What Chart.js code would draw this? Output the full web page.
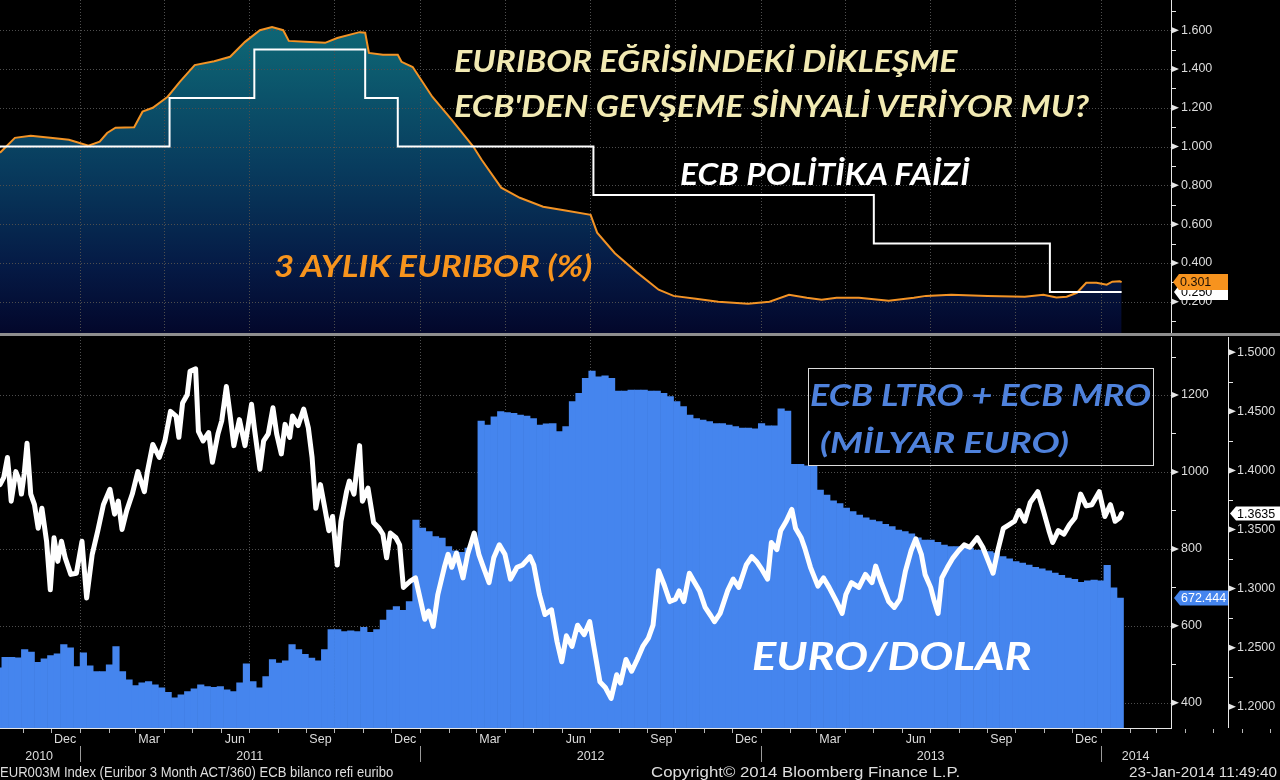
<!DOCTYPE html>
<html><head><meta charset="utf-8"><title>Euribor / ECB</title>
<script src="https://cdn.jsdelivr.net/npm/chart.js@4.4.1/dist/chart.umd.min.js"></script>
<style>
html,body{margin:0;padding:0;background:#000;width:1280px;height:780px;overflow:hidden;}
#wrap{position:relative;width:1280px;height:780px;background:#000;}
canvas{position:absolute;left:0;}
#cTop{top:0;}
#cBot{top:336px;}
#sep{position:absolute;left:0;top:333px;width:1280px;height:3px;background:#8e8e8e;}
#box{position:absolute;left:808px;top:368px;width:346px;height:98px;border:1px solid #dcdcdc;box-sizing:border-box;}
.t{position:absolute;left:0;top:0;white-space:nowrap;transform-origin:0 0;font-family:Lato,'Open Sans',sans-serif;font-weight:bold;font-style:italic;line-height:1;}
.f{position:absolute;left:0;top:0;white-space:nowrap;transform-origin:0 0;font-family:'Liberation Sans',Arial,sans-serif;color:#dedede;line-height:1;}
</style></head>
<body><div id="wrap">
<canvas id="cTop" width="1280" height="333"></canvas>
<div id="sep"></div>
<canvas id="cBot" width="1280" height="444"></canvas>
<div id="box"></div>
<div class="t" id="a1" style="color:#f2eab3">EURIBOR EĞRİSİNDEKİ DİKLEŞME</div>
<div class="t" id="a2" style="color:#f2eab3">ECB'DEN GEVŞEME SİNYALİ VERİYOR MU?</div>
<div class="t" id="a3" style="color:#ffffff">ECB POLİTİKA FAİZİ</div>
<div class="t" id="a4" style="color:#f7941d">3 AYLIK EURIBOR (%)</div>
<div class="t" id="a5" style="color:#4f82dc">ECB LTRO + ECB MRO</div>
<div class="t" id="a6" style="color:#4f82dc">(MİLYAR EURO)</div>
<div class="t" id="a7" style="color:#ffffff">EURO/DOLAR</div>
<div class="f" id="f1">EUR003M Index (Euribor 3 Month ACT/360) ECB bilanco refi euribo</div>
<div class="f" id="f2">Copyright© 2014 Bloomberg Finance L.P.</div>
<div class="f" id="f3">23-Jan-2014 11:49:40</div>
</div>
<script>
// ---------------- DATA ----------------
const euriborDates = ['2010-10-07','2010-10-23','2010-11-09','2010-11-30','2010-12-20',
 '2011-01-10','2011-01-22','2011-01-30','2011-02-08','2011-02-28','2011-03-09','2011-03-20','2011-04-05','2011-04-18','2011-05-04','2011-05-25','2011-06-11','2011-06-27','2011-07-13','2011-07-26','2011-08-07','2011-08-13','2011-08-31','2011-09-21','2011-10-04','2011-10-28','2011-11-03','2011-11-07','2011-11-22','2011-12-08','2011-12-12','2011-12-24',
 '2012-01-14','2012-02-04','2012-02-27','2012-03-07','2012-03-28','2012-04-17','2012-05-12','2012-06-05','2012-07-02','2012-07-09','2012-07-28','2012-08-21','2012-09-13','2012-09-29','2012-10-23','2012-11-16','2012-12-18',
 '2013-01-10','2013-01-31','2013-02-19','2013-03-07','2013-03-23','2013-04-16','2013-05-18','2013-06-14','2013-06-27','2013-07-24','2013-09-01','2013-10-11','2013-10-31','2013-11-14','2013-11-25','2013-12-06','2013-12-16','2013-12-27',
 '2014-01-07','2014-01-13','2014-01-21','2014-01-23'];
const euriborValues = [0.968,1.045,1.056,1.045,1.035,
 1.004,1.025,1.070,1.097,1.100,1.180,1.200,1.257,1.334,1.420,1.440,1.463,1.540,1.600,1.617,1.600,1.545,1.540,1.535,1.560,1.590,1.587,1.483,1.473,1.473,1.437,1.410,
 1.257,1.138,1.000,0.932,0.788,0.736,0.690,0.670,0.648,0.556,0.450,0.350,0.262,0.230,0.215,0.200,0.190,
 0.200,0.236,0.220,0.210,0.220,0.220,0.205,0.220,0.230,0.236,0.230,0.226,0.236,0.222,0.226,0.246,0.298,0.298,
 0.288,0.303,0.305,0.301];

const refiDates  = ['2010-10-01','2011-04-07','2011-07-07','2011-11-03','2011-12-08','2012-07-05','2013-05-02','2013-11-07','2014-01-23'];
const refiValues = [1.00,1.25,1.50,1.25,1.00,0.75,0.50,0.25,0.25];

// weekly ECB LTRO + MRO balance (bn EUR), first week starting:
const balanceFirstWeek = '2010-10-02';
const balanceValues = [491,518,518,517,538,532,505,514,523,527,551,543,494,530,496,481,481,499,546,481,
 460,445,452,455,447,439,427,413,421,429,436,447,442,440,442,434,429,452,501,455,
 439,468,512,503,509,551,538,526,516,509,538,590,590,585,587,585,596,583,590,615,
 641,650,640,663,875,854,845,832,828,806,795,791,802,815,1132,1122,1143,1157,1154,1152,
 1148,1145,1139,1122,1125,1126,1105,1118,1183,1204,1243,1262,1247,1250,1243,1210,1210,1213,1213,1213,
 1210,1210,1204,1196,1183,1170,1148,1139,1135,1131,1126,1126,1122,1118,1114,1114,1112,1126,1120,1120,
 1164,1158,1020,1020,1016,1016,953,940,925,918,906,897,888,881,875,871,864,858,849,845,
 839,829,823,823,817,810,806,806,802,802,797,797,793,789,780,774,767,763,758,752,
 748,743,737,731,724,721,713,717,719,717,757,699,672.444];

const fxDates = [
 '2010-10-07','2010-10-11','2010-10-15','2010-10-17','2010-10-19','2010-10-24','2010-10-28','2010-10-30','2010-11-02','2010-11-05','2010-11-07','2010-11-09','2010-11-13','2010-11-17','2010-11-21','2010-11-26','2010-11-30','2010-12-04','2010-12-08','2010-12-12','2010-12-16','2010-12-22','2010-12-28',
 '2011-01-03','2011-01-08','2011-01-14','2011-01-20','2011-01-26','2011-02-02','2011-02-07','2011-02-11','2011-02-15','2011-02-20','2011-02-26','2011-03-04','2011-03-11','2011-03-14','2011-03-20','2011-03-27','2011-04-02','2011-04-08','2011-04-14','2011-04-17','2011-04-21','2011-04-26','2011-04-29','2011-05-05','2011-05-08','2011-05-13','2011-05-19','2011-05-23','2011-05-29','2011-06-02','2011-06-07','2011-06-11','2011-06-15','2011-06-21','2011-06-27','2011-07-04','2011-07-07','2011-07-13','2011-07-17','2011-07-22','2011-07-27','2011-07-31','2011-08-05','2011-08-09','2011-08-14','2011-08-17','2011-08-23','2011-08-29','2011-09-03','2011-09-07','2011-09-11','2011-09-16','2011-09-20','2011-09-25','2011-09-29','2011-10-04','2011-10-08','2011-10-14','2011-10-17','2011-10-22','2011-10-24','2011-10-28','2011-10-31','2011-11-06','2011-11-12','2011-11-18','2011-11-22','2011-11-26','2011-11-30','2011-12-06','2011-12-10','2011-12-14','2011-12-21','2011-12-27','2011-12-31',
 '2012-01-06','2012-01-10','2012-01-15','2012-01-20','2012-01-27','2012-01-31','2012-02-04','2012-02-09','2012-02-16','2012-02-21','2012-02-28','2012-03-04','2012-03-08','2012-03-15','2012-03-20','2012-03-26','2012-04-01','2012-04-07','2012-04-14','2012-04-20','2012-04-28','2012-05-02','2012-05-08','2012-05-14','2012-05-21','2012-05-27','2012-06-01','2012-06-06','2012-06-12','2012-06-18','2012-06-25','2012-07-01','2012-07-05','2012-07-12','2012-07-18','2012-07-24','2012-07-30','2012-08-03','2012-08-09','2012-08-15','2012-08-21','2012-08-27','2012-09-02','2012-09-07','2012-09-13','2012-09-19','2012-09-25','2012-10-01','2012-10-05','2012-10-10','2012-10-16','2012-10-21','2012-10-27','2012-11-02','2012-11-08','2012-11-12','2012-11-18','2012-11-26','2012-12-02','2012-12-08','2012-12-16','2012-12-22','2012-12-27',
 '2013-01-02','2013-01-08','2013-01-12','2013-01-18','2013-01-22','2013-01-28','2013-02-03','2013-02-07','2013-02-13','2013-02-17','2013-02-23','2013-03-03','2013-03-09','2013-03-15','2013-03-23','2013-03-29','2013-04-02','2013-04-08','2013-04-16','2013-04-23','2013-04-30','2013-05-04','2013-05-10','2013-05-18','2013-05-24','2013-05-30','2013-06-05','2013-06-11','2013-06-16','2013-06-22','2013-06-26','2013-07-02','2013-07-06','2013-07-10','2013-07-14','2013-07-20','2013-07-26','2013-08-01','2013-08-07','2013-08-13','2013-08-21','2013-08-27','2013-09-02','2013-09-07','2013-09-12','2013-09-18','2013-09-24','2013-09-30','2013-10-05','2013-10-11','2013-10-17','2013-10-25','2013-10-31','2013-11-06','2013-11-10','2013-11-16','2013-11-22','2013-11-28','2013-12-04','2013-12-10','2013-12-16','2013-12-22','2013-12-30',
 '2014-01-05','2014-01-11','2014-01-16','2014-01-21','2014-01-23'];
const fxValues = [
 1.388,1.394,1.411,1.394,1.374,1.399,1.391,1.380,1.397,1.423,1.402,1.380,1.371,1.351,1.368,1.340,1.299,1.343,1.323,1.340,1.326,1.312,1.313,
 1.340,1.292,1.329,1.349,1.371,1.384,1.363,1.374,1.350,1.366,1.380,1.399,1.382,1.398,1.422,1.411,1.425,1.450,1.446,1.428,1.457,1.464,1.484,1.486,1.433,1.425,1.432,1.407,1.431,1.442,1.471,1.447,1.421,1.443,1.421,1.456,1.436,1.401,1.425,1.431,1.453,1.431,1.414,1.439,1.428,1.446,1.438,1.452,1.436,1.411,1.368,1.388,1.371,1.349,1.361,1.320,1.357,1.382,1.391,1.380,1.394,1.421,1.374,1.385,1.356,1.351,1.346,1.326,1.347,1.343,1.337,1.301,1.306,1.309,1.295,
 1.274,1.281,1.268,1.295,1.318,1.329,1.318,1.330,1.309,1.329,1.347,1.329,1.320,1.305,1.326,1.337,1.329,1.308,1.318,1.320,1.327,1.320,1.295,1.278,1.282,1.255,1.238,1.260,1.251,1.269,1.261,1.272,1.253,1.221,1.216,1.207,1.227,1.220,1.240,1.230,1.240,1.251,1.258,1.269,1.315,1.303,1.289,1.291,1.298,1.289,1.313,1.306,1.298,1.284,1.277,1.272,1.279,1.298,1.308,1.301,1.320,1.327,1.323,
 1.316,1.308,1.339,1.333,1.349,1.357,1.367,1.351,1.343,1.334,1.318,1.302,1.309,1.301,1.289,1.279,1.295,1.305,1.301,1.312,1.305,1.319,1.305,1.289,1.284,1.291,1.315,1.332,1.342,1.329,1.312,1.301,1.289,1.279,1.309,1.318,1.326,1.332,1.337,1.335,1.343,1.335,1.323,1.313,1.332,1.351,1.354,1.357,1.366,1.357,1.373,1.382,1.366,1.349,1.339,1.349,1.346,1.354,1.360,1.380,1.370,1.371,1.382,
 1.361,1.371,1.357,1.360,1.3635];

// ticks / labels
const topMajorTicks = [0.2,0.4,0.6,0.8,1.0,1.2,1.4,1.6];
const topMinorTicks = [0.1,0.3,0.5,0.7,0.9,1.1,1.3,1.5,1.7];
const balMajorTicks = [400,600,800,1000,1200];
const balMinorTicks = [500,700,900,1100,1300];
const fxMajorTicks = [1.20,1.25,1.30,1.35,1.40,1.45,1.50];
const fxMinorTicks = [1.225,1.275,1.325,1.375,1.425,1.475];
const monthLabels = ['Dec','Mar','Jun','Sep','Dec','Mar','Jun','Sep','Dec','Mar','Jun','Sep','Dec'];
const monthLabelDates = ['2010-12-16','2011-03-16','2011-06-16','2011-09-16','2011-12-16','2012-03-16','2012-06-16','2012-09-16','2012-12-16','2013-03-16','2013-06-16','2013-09-16','2013-12-16'];
const yearLabels = ['2010','2011','2012','2013','2014'];
const yearLabelDates = ['2010-11-18','2011-07-02','2012-07-02','2013-07-02','2014-02-07'];
const axisStart = '2010-10-07', axisEnd = '2014-03-17';

// ---------------- HELPERS ----------------
const DAY0 = Date.UTC(2011,0,1);
function dayNum(s){ const p = s.split('-').map(Number); return (Date.UTC(p[0],p[1]-1,p[2]) - DAY0)/86400000; }
const xMin = dayNum(axisStart), xMax = dayNum(axisEnd);
const monthStarts = [], quarterStarts = [], yearStarts = [];
for (let y = 2010; y <= 2014; y++) for (let m = 0; m < 12; m++) {
  const d = (Date.UTC(y,m,1) - DAY0)/86400000;
  if (d < xMin || d > xMin + 1400) continue;
  monthStarts.push(d);
  if (m % 3 === 0 && d <= xMax) quarterStarts.push(d);
  if (m === 0) yearStarts.push(d);
}
const FONT = {family:"'Liberation Sans', Arial, sans-serif", size:12.5};
const LABEL = '#dcdcdc', AXIS = '#e6e6e6', GRID = '#4e4e4e';
function noPad(s){ s.paddingTop = 0; s.paddingBottom = 0; s.paddingLeft = 0; s.paddingRight = 0; }
function ln(ctx,x1,y1,x2,y2){ ctx.beginPath(); ctx.moveTo(x1,y1); ctx.lineTo(x2,y2); ctx.stroke(); }
function drawGrid(chart, yId, yVals){
  const {ctx, chartArea:a, scales} = chart;
  ctx.save(); ctx.strokeStyle = GRID; ctx.lineWidth = 1; ctx.setLineDash([1,2]);
  yVals.forEach(v => { const y = Math.round(scales[yId].getPixelForValue(v)) + 0.5; ln(ctx, a.left, y, a.right, y); });
  quarterStarts.forEach(d => { const x = Math.round(scales.x.getPixelForValue(d)) + 0.5; ln(ctx, x, a.top, x, a.bottom); });
  ctx.restore();
}
function drawAxis(chart, id, major, minor){
  const {ctx, chartArea:a, scales} = chart; const s = scales[id]; const x0 = Math.round(s.left);
  ctx.save(); ctx.strokeStyle = AXIS; ctx.fillStyle = AXIS; ctx.lineWidth = 1;
  ln(ctx, x0 + 0.5, a.top, x0 + 0.5, a.bottom);
  major.forEach(v => { const y = s.getPixelForValue(v); ctx.beginPath(); ctx.moveTo(x0+1, y-3); ctx.lineTo(x0+8, y); ctx.lineTo(x0+1, y+3); ctx.closePath(); ctx.fill(); });
  minor.forEach(v => { const y = Math.round(s.getPixelForValue(v)) + 0.5; ln(ctx, x0, y, x0+5, y); });
  ctx.restore();
}
function badge(ctx, xTip, yc, w, h, fill, text, color){
  ctx.save(); ctx.fillStyle = fill;
  ctx.beginPath(); ctx.moveTo(xTip, yc); ctx.lineTo(xTip+6, yc-h/2); ctx.lineTo(xTip+w, yc-h/2); ctx.lineTo(xTip+w, yc+h/2); ctx.lineTo(xTip+6, yc+h/2); ctx.closePath(); ctx.fill();
  ctx.fillStyle = color; ctx.font = "12.5px 'Liberation Sans', Arial, sans-serif"; ctx.textBaseline = 'middle'; ctx.textAlign = 'left';
  ctx.fillText(text, xTip+7, yc+0.5);
  ctx.restore();
}
const pts = (dates, vals) => dates.map((d,i) => ({x: dayNum(d), y: vals[i]}));
const barPts = balanceValues.map((v,i) => ({x: dayNum(balanceFirstWeek) + 7*i + 3.5, y: v}));

// ---------------- TOP CHART ----------------
new Chart(document.getElementById('cTop'), {
  data: { datasets: [
    { type:'line', label:'ECB refi', data: pts(refiDates, refiValues), stepped: true, borderColor:'#ffffff', borderWidth:2, pointRadius:0, fill:false },
    { type:'line', label:'Euribor 3M', data: pts(euriborDates, euriborValues), borderColor:'#f39325', borderWidth:2, pointRadius:0, tension:0,
      fill:'start',
      backgroundColor: (c) => { const ch = c.chart, a = ch.chartArea; if (!a) return 'rgba(0,0,0,0)';
        const g = ch.ctx.createLinearGradient(0, a.top, 0, a.bottom);
        g.addColorStop(0, '#0f6a79'); g.addColorStop(0.15, '#0d6172'); g.addColorStop(0.5, '#083c5e'); g.addColorStop(0.8, '#051a45'); g.addColorStop(1, '#03072b'); return g; } }
  ]},
  options: {
    responsive:false, animation:false, devicePixelRatio:1,
    layout:{padding:0},
    plugins:{legend:{display:false}, tooltip:{enabled:false}, filler:{drawTime:'beforeDatasetsDraw'}},
    scales:{
      x:{type:'linear', min:xMin, max:xMax, display:false, offset:false, afterFit: noPad},
      y:{type:'linear', position:'right', min:0.0386, max:1.7558,
         afterBuildTicks: s => { s.ticks = topMajorTicks.map(v => ({value:v})); },
         afterFit: s => { s.width = 109; noPad(s); },
         grid:{display:false, drawTicks:false}, border:{display:false},
         ticks:{color:LABEL, font:FONT, padding:10, callback: v => Number(v).toFixed(3)} }
    }
  },
  plugins:[{ id:'decoTop',
    beforeDatasetsDraw(chart){ drawGrid(chart, 'y', topMajorTicks); },
    afterDraw(chart){
      drawAxis(chart, 'y', topMajorTicks, topMinorTicks);
      const s = chart.scales.y, ctx = chart.ctx, x0 = Math.round(s.left);
      const rl = refiValues[refiValues.length-1], el = euriborValues[euriborValues.length-1];
      badge(ctx, x0+3, s.getPixelForValue(rl), 54, 16, '#ffffff', rl.toFixed(3), '#000000');
      badge(ctx, x0+2, s.getPixelForValue(el), 55, 16, '#f7931e', el.toFixed(3), '#1c1006');
    } }]
});

// ---------------- BOTTOM CHART ----------------
new Chart(document.getElementById('cBot'), {
  data: { datasets: [
    { type:'line', label:'EUR/USD', yAxisID:'yFx', data: pts(fxDates, fxValues), borderColor:'#ffffff', borderWidth:5, pointRadius:0, tension:0, borderJoinStyle:'round', borderCapStyle:'round', fill:false, order:0 },
    { type:'bar', label:'ECB LTRO + MRO', yAxisID:'yBal', data: barPts, backgroundColor:'#4585ee', borderWidth:0, barPercentage:1, categoryPercentage:1, order:1 }
  ]},
  options: {
    responsive:false, animation:false, devicePixelRatio:1,
    layout:{padding:{top:1, bottom:14, left:0, right:0}},
    plugins:{legend:{display:false}, tooltip:{enabled:false}},
    scales:{
      x:{type:'linear', position:'bottom', min:xMin, max:xMax, offset:false, weight:0,
         afterBuildTicks: s => { s.ticks = monthLabelDates.map(d => ({value: dayNum(d)})); },
         afterFit: s => { s.height = 18; noPad(s); },
         grid:{display:false, drawTicks:false}, border:{display:false},
         ticks:{color:LABEL, font:FONT, padding:4.5, autoSkip:false, maxRotation:0, callback: (v,i) => monthLabels[i]} },
      xYear:{type:'linear', position:'bottom', min:xMin, max:xMax, offset:false, weight:1,
         afterBuildTicks: s => { s.ticks = yearLabelDates.map(d => ({value: dayNum(d)})); },
         afterFit: s => { s.height = 20; noPad(s); },
         grid:{display:false, drawTicks:false}, border:{display:false},
         ticks:{color:LABEL, font:FONT, padding:3.5, autoSkip:false, maxRotation:0, callback: (v,i) => yearLabels[i]} },
      yBal:{type:'linear', position:'right', min:334.5, max:1350.7, weight:0,
         afterBuildTicks: s => { s.ticks = balMajorTicks.map(v => ({value:v})); },
         afterFit: s => { s.width = 57; noPad(s); },
         grid:{display:false, drawTicks:false}, border:{display:false},
         ticks:{color:LABEL, font:FONT, padding:10, callback: v => String(Math.round(v))} },
      yFx:{type:'linear', position:'right', min:1.18197, max:1.51295, weight:1,
         afterBuildTicks: s => { s.ticks = fxMajorTicks.map(v => ({value:v})); },
         afterFit: s => { s.width = 52; noPad(s); },
         grid:{display:false, drawTicks:false}, border:{display:false},
         ticks:{color:LABEL, font:FONT, padding:9, callback: v => Number(v).toFixed(4)} }
    }
  },
  plugins:[{ id:'decoBot',
    beforeDatasetsDraw(chart){ drawGrid(chart, 'yBal', balMajorTicks); },
    afterDraw(chart){
      const {ctx, chartArea:a, scales} = chart;
      drawAxis(chart, 'yBal', balMajorTicks, balMinorTicks);
      drawAxis(chart, 'yFx', fxMajorTicks, fxMinorTicks);
      ctx.save(); ctx.strokeStyle = AXIS; ctx.lineWidth = 1;
      ln(ctx, a.left, Math.round(a.bottom)+0.5, a.right+1, Math.round(a.bottom)+0.5);
      ctx.strokeStyle = '#b8b8b8';
      monthStarts.forEach(d => { const x = Math.round(scales.x.getPixelForValue(d)) + 0.5; if (x > 1280) return; ln(ctx, x, a.bottom+1, x, a.bottom+5); });
      ctx.strokeStyle = '#9a9a9a';
      yearStarts.forEach(d => { const x = Math.round(scales.x.getPixelForValue(d)) + 0.5; if (x < 0 || x > 1280) return; ln(ctx, x, a.bottom+18, x, a.bottom+34); });
      ctx.restore();
      const sb = scales.yBal, sf = scales.yFx;
      const bl = balanceValues[balanceValues.length-1], fl = fxValues[fxValues.length-1];
      badge(ctx, Math.round(sb.left)+3, sb.getPixelForValue(bl), 54, 15, '#4585ee', bl.toFixed(3), '#ffffff');
      badge(ctx, Math.round(sf.left)+2, sf.getPixelForValue(fl), 52, 14, '#ffffff', fl.toFixed(4), '#000000');
    } }]
});

// ---------------- TEXT PLACEMENT ----------------
function fitText(id, L, R, capTop, base){
  const el = document.getElementById(id);
  const cs = getComputedStyle(el);
  const cv = document.createElement('canvas').getContext('2d');
  const fam = cs.fontFamily, st = cs.fontStyle, wt = cs.fontWeight;
  cv.font = st + ' ' + wt + ' 100px ' + fam;
  const cap = cv.measureText('H').actualBoundingBoxAscent / 100;
  const F = (base - capTop) / cap;
  cv.font = st + ' ' + wt + ' ' + F + 'px ' + fam;
  const m = cv.measureText(el.textContent);
  const inkL = -m.actualBoundingBoxLeft, inkR = m.actualBoundingBoxRight;
  const s = (R - L) / (inkR - inkL);
  el.style.fontSize = F + 'px';
  const mk = document.createElement('span');
  mk.style.cssText = 'display:inline-block;width:0;height:0;vertical-align:baseline;';
  el.appendChild(mk);
  const b = mk.offsetTop;
  el.removeChild(mk);
  el.style.left = (L - inkL * s) + 'px';
  el.style.top = (base - b) + 'px';
  el.style.transform = 'scaleX(' + s + ')';
}
fitText('a1', 455, 958, 50, 72);
fitText('a2', 455, 1090, 95, 117);
fitText('a3', 681, 971, 163, 185);
fitText('a4', 275, 593, 255, 277);
fitText('a5', 811, 1151, 384, 406);
fitText('a6', 820, 1068, 432, 453);
fitText('a7', 753, 1031, 642, 670);
fitText('f1', 1, 394, 767, 777);
fitText('f2', 651, 959, 767, 777);
fitText('f3', 1129, 1277, 767, 777);
</script>
</body></html>
